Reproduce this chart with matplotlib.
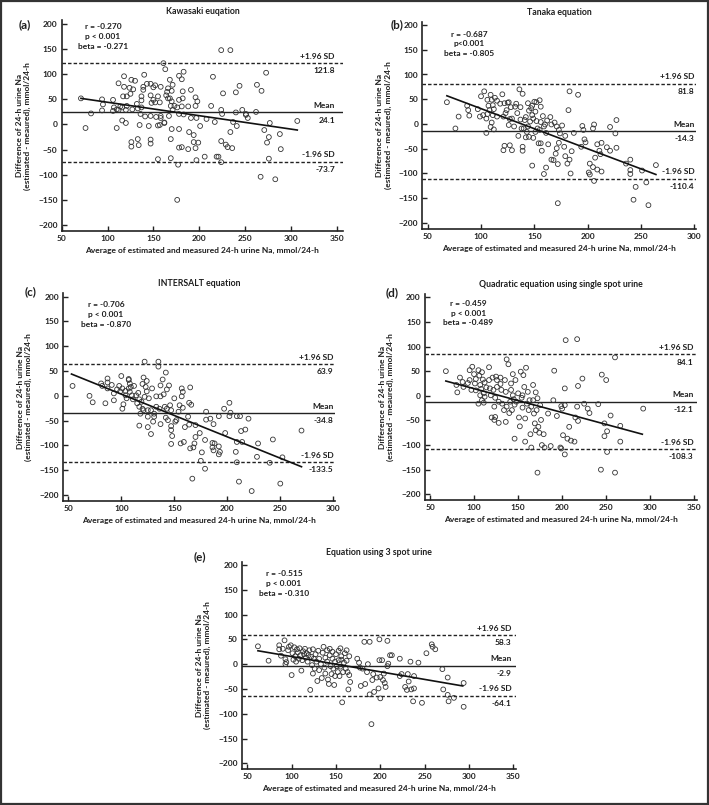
import numpy as np
import matplotlib
matplotlib.use("Agg")
import matplotlib.pyplot as plt
from matplotlib.patches import Rectangle

plt.rcParams['font.family'] = ['Lato', 'DejaVu Sans']

# ---- data (Bland-Altman plots), (average, difference) ----
a_pts = [(224, 148), (234, 148), (161, 122), (163, 110), (215, 95), (273, 103), (183, 105), (178, 97),
         (181, 90), (168, 89), (140, 99), (118, 96), (126, 89), (130, 87), (112, 82), (143, 81),
         (147, 81), (152, 78), (139, 75), (150, 74), (158, 75), (118, 75), (124, 73), (128, 70),
         (139, 69), (166, 72), (171, 79), (165, 65), (170, 67), (182, 66), (244, 77), (263, 79),
         (268, 67), (226, 62), (240, 64), (191, 69),
         (71, 52), (94, 50), (106, 49), (117, 56), (121, 56), (125, 61), (137, 56), (147, 58),
         (150, 49), (155, 56), (164, 58), (166, 52), (168, 52), (170, 46), (178, 49), (182, 52),
         (196, 54), (198, 46),
         (95, 40), (132, 41), (137, 48), (148, 43), (152, 44), (157, 44), (169, 37), (173, 37),
         (176, 34), (181, 36), (188, 36), (196, 37), (213, 37), (247, 29), (251, 19), (253, 13),
         (262, 25),
         (107, 34), (110, 30), (114, 36), (116, 34), (121, 37), (137, 34), (94, 28), (106, 27),
         (112, 29), (120, 29), (127, 30), (133, 32), (82, 22), (136, 21), (147, 17), (153, 15),
         (158, 13), (162, 4), (167, 17), (171, 29), (178, 21), (183, 20), (191, 13), (197, 13),
         (208, 11), (217, 5), (224, 29), (225, 21), (237, 5), (241, -3), (240, 24), (251, 21),
         (116, 8), (120, 3), (135, -1), (145, -3), (155, -2), (157, -1), (162, 3), (201, -3),
         (277, 3), (307, 7), (76, -7), (110, -7), (170, -9), (178, -9), (189, -15), (194, -21),
         (234, -15), (271, -11), (288, -19), (276, -25), (274, -36), (169, -29), (133, -29),
         (126, -35), (126, -44), (134, -41), (147, -30), (147, -38), (178, -46), (181, -45),
         (188, -49), (194, -35), (199, -36), (196, -47), (224, -33), (229, -40), (231, -45),
         (236, -47), (289, -49), (155, -69), (169, -67), (197, -71), (206, -64), (219, -64),
         (221, -64), (224, -75), (177, -80), (276, -68), (267, -104), (283, -109), (176, -150),
         (158, 17), (141, 16)]

b_pts = [(68, 44), (76, -9), (79, 15), (87, 37), (88, 28), (89, 17), (97, 30), (100, 56), (103, 66),
         (99, 15), (102, 18), (105, 11), (106, 49), (107, 37), (108, 28), (106, 20), (105, -18),
         (109, 59), (110, 49), (111, 38), (112, 30), (111, 18), (109, -6), (110, 3), (112, -11),
         (113, 53), (115, 47), (115, 15), (118, 41), (121, 15), (120, 60), (122, 42), (123, 22),
         (124, 28), (125, 43), (126, 44), (128, 34), (127, 10), (126, -2), (129, 11), (132, 35),
         (133, 41), (134, 22), (136, 70), (139, 61), (137, 34), (137, 9), (141, 8), (142, 14),
         (144, 42), (145, 27), (147, 32), (148, 37), (150, 45), (155, 48), (156, 35), (152, 44),
         (151, 25), (148, 18), (149, 11), (152, 6), (156, 4), (158, 16), (162, 7), (165, 14),
         (166, -1), (169, 3), (171, -5), (173, -12), (160, -1), (159, -5), (153, -9), (155, -12),
         (161, -18), (151, -16), (143, -16), (135, -24), (142, -27), (145, -26), (149, -28),
         (156, -39), (157, -54), (163, -41), (174, -19), (173, -38), (171, -49), (170, -60),
         (166, -72), (168, -73), (172, -81), (161, -88), (159, -101), (148, -84), (179, -24),
         (179, -65), (181, -80), (183, -72), (185, -55), (182, 28), (183, 66), (191, 59),
         (187, -18), (184, -100), (195, -4), (196, -12), (197, -31), (198, -37), (194, -46),
         (201, -98), (202, -102), (202, -80), (205, -87), (205, -9), (206, -1), (207, -68),
         (206, -115), (209, -41), (209, -92), (211, -54), (212, -61), (213, -38), (213, -96),
         (218, -47), (221, -54), (221, -6), (227, 8), (226, -19), (227, -48), (236, -80),
         (240, -72), (240, -93), (240, -101), (251, -94), (245, -127), (243, -153), (255, -118),
         (257, -164), (264, -83), (172, -160), (146, 5), (144, -5), (140, -9), (131, -5),
         (122, -44), (121, -53), (129, -53), (127, -43), (139, -46), (139, -54), (138, -9),
         (154, -39), (176, -3), (178, -46)]

c_pts = [(54, 20), (70, 0), (73, -13), (81, 25), (82, 20), (87, 27), (87, 35), (85, -15), (87, 15),
         (91, 22), (93, 5), (93, -9), (96, 13), (98, 20), (99, 9), (101, 15), (100, 40), (101, -26),
         (102, -17), (104, 1), (104, 10), (105, -5), (107, 34), (107, 32), (108, 25), (109, 18),
         (108, 8), (110, 1), (111, -7), (112, 20), (114, 1), (115, -15), (116, 6), (117, -7),
         (117, -22), (118, -36), (117, -60), (119, -12), (120, 24), (120, -26), (121, -29),
         (122, 69), (122, -2), (123, 18), (124, 30), (124, 9), (125, -42), (125, -63), (126, -5),
         (128, -29), (128, -77), (129, 15), (130, -52), (131, -42), (133, -22), (133, -1),
         (135, 69), (135, 59), (136, -26), (137, -57), (137, -1), (139, 33), (140, 3), (141, -22),
         (142, -44), (142, 47), (143, 13), (143, -26), (144, -49), (145, 21), (146, -19),
         (147, -29), (147, -61), (147, -69), (147, -97), (148, -81), (150, -5), (151, -52),
         (152, -49), (154, -32), (155, -19), (156, -96), (157, 15), (157, -1), (158, -24),
         (158, 8), (159, -93), (160, -63), (163, -42), (164, -58), (164, -14), (165, 17),
         (166, -18), (165, -106), (167, -167), (168, -104), (169, -96), (170, -83), (170, -59),
         (174, -75), (175, -131), (176, -114), (180, -48), (180, -32), (179, -89), (179, -147),
         (184, -46), (186, -95), (186, -104), (187, -110), (188, -96), (187, -57), (192, -41),
         (192, -102), (193, -113), (192, -118), (197, -26), (198, -75), (202, -14), (203, -34),
         (202, -41), (208, -113), (209, -93), (209, -41), (209, -134), (211, -173), (212, -41),
         (213, -71), (214, -93), (217, -68), (220, -46), (223, -192), (228, -123), (229, -96),
         (240, -135), (243, -88), (250, -177), (252, -124), (270, -70), (137, 21), (131, -36),
         (125, -29), (121, 37), (107, 15)]

d_pts = [(68, 50), (81, 7), (80, 22), (84, 37), (87, 28), (88, 18), (93, 26), (95, 32), (95, 52),
         (98, 59), (97, 12), (100, 44), (101, 25), (102, 34), (102, 11), (105, 52), (106, 41),
         (105, -16), (107, 22), (108, 14), (107, 1), (109, 48), (110, 33), (111, 5), (109, -9),
         (112, 27), (114, 17), (112, -2), (111, -14), (117, 58), (117, 32), (118, 15), (119, 1),
         (120, -44), (121, 37), (122, 12), (123, -22), (123, -49), (124, -4), (124, -43),
         (125, 39), (126, 18), (126, 32), (128, -12), (128, -55), (130, 24), (130, 37), (131, 12),
         (132, -16), (134, -29), (135, 32), (136, -53), (137, 74), (136, 8), (137, -22),
         (139, 64), (140, -35), (141, -12), (142, 25), (142, 12), (143, -29), (144, 44), (144, 1),
         (145, -7), (146, -18), (146, -87), (147, 32), (148, -12), (150, 5), (151, -44),
         (152, -62), (153, 49), (154, -4), (155, 1), (155, -24), (156, 42), (157, 18), (158, -93),
         (158, -46), (159, 57), (160, -16), (161, 8), (162, -29), (163, -9), (164, -78),
         (165, -22), (165, -105), (167, -9), (167, 22), (168, -36), (169, -56), (170, 7),
         (170, -70), (171, -29), (172, -5), (172, -156), (173, -63), (174, -75), (175, -19),
         (176, -49), (177, -100), (179, -78), (180, -105), (184, -36), (187, -102), (190, -9),
         (191, 51), (194, -41), (198, -105), (199, -21), (199, -107), (200, -26), (201, -80),
         (203, -19), (203, 15), (203, -119), (204, 113), (206, -87), (208, -63), (210, -91),
         (214, -93), (215, -44), (217, -22), (218, -51), (217, 115), (218, 20), (223, 35),
         (225, -16), (229, -26), (231, -35), (241, -17), (244, -150), (245, 43), (248, -56),
         (248, -82), (250, 32), (251, -72), (251, -114), (255, -40), (260, -156), (260, 78),
         (266, -61), (266, -93), (292, -26)]

e_pts = [(62, 36), (74, 7), (86, 38), (86, 30), (88, 17), (90, 31), (92, 48), (93, 10), (93, 0),
         (94, 4), (96, 28), (97, 35), (99, 38), (100, -22), (101, 22), (102, 9), (103, 34),
         (104, 16), (105, 5), (106, 30), (107, 24), (108, 11), (109, 32), (110, 18), (111, -13),
         (112, 8), (113, 26), (114, 20), (115, 31), (116, 13), (117, 22), (118, 5), (119, 18),
         (120, 28), (121, -52), (122, 15), (123, -2), (124, -19), (124, 30), (125, 11), (126, -9),
         (127, 20), (128, 5), (129, -34), (130, 27), (131, -12), (131, 11), (133, 0), (134, -28),
         (135, 23), (136, 35), (137, -7), (138, 13), (138, -19), (140, 28), (140, 5), (141, -31),
         (142, -40), (143, 18), (143, 31), (144, -4), (145, -20), (146, 11), (146, 25), (147, -9),
         (148, -42), (149, 5), (149, -24), (150, 20), (151, -4), (152, -16), (153, 8), (153, 27),
         (154, -24), (155, -5), (155, 32), (156, 16), (156, 9), (157, -77), (158, -16), (159, 3),
         (160, 22), (161, -9), (162, 28), (162, 7), (163, -16), (164, -51), (165, -22), (165, 16),
         (166, -36), (174, 11), (176, 3), (177, -7), (178, -44), (180, -9), (182, 45), (183, -40),
         (185, -16), (186, 0), (188, 45), (188, -61), (190, -121), (191, -32), (192, -20),
         (193, -56), (196, -27), (198, -49), (199, 50), (199, 8), (200, -26), (200, -69),
         (202, 8), (203, -32), (204, -19), (205, -38), (206, -46), (208, -4), (208, 47), (209, 1),
         (211, 18), (213, 18), (222, 11), (222, -24), (224, -20), (228, -46), (230, -52),
         (231, -20), (232, -35), (234, 5), (235, -51), (238, -49), (238, -24), (237, -75),
         (243, 3), (247, -78), (252, 22), (258, 40), (259, 35), (262, 30), (270, -10), (271, -51),
         (276, -27), (276, -62), (277, -75), (283, -68), (294, -38), (294, -86)]

titles = ["Kawasaki euqation", "Tanaka equation", "INTERSALT equation",
          "Quadratic equation using single spot urine", "Equation using 3 spot urine"]
letters = ["(a)", "(b)", "(c)", "(d)", "(e)"]
means = [24.1, -14.3, -34.8, -12.1, -2.9]
upper = [121.8, 81.8, 63.9, 84.1, 58.3]
lower = [-73.7, -110.4, -133.5, -108.3, -64.1]
r_vals = ["-0.270", "-0.687", "-0.706", "-0.459", "-0.515"]
p_txt = ["p < 0.001", "p<0.001", "p < 0.001", "p < 0.001", "p < 0.001"]
beta_vals = ["-0.271", "-0.805", "-0.870", "-0.489", "-0.310"]
# regression line ends
reg_x = [(71, 307), (68, 264), (53, 270), (68, 291), (62, 293)]
reg_y = [(52, -11), (57, -102), (44, -143), (30, -78), (27, -44)]
xmax_tick = [350, 300, 300, 350, 350]

panels = [a_pts, b_pts, c_pts, d_pts, e_pts]

# ---- layout (pixels in a 709x805 canvas) ----
W, H = 709, 805
# (x50 px, xmax px, xlim, y200 px, y-200 px)
geo = [
    (61.7, 336.7, (50, 357), 24.0, 225.0),
    (427.7, 694.3, (45, 302), 25.0, 223.0),
    (68.3, 333.3, (45, 302), 296.7, 495.0),
    (430.0, 694.3, (44, 353), 297.3, 494.3),
    (247.3, 513.3, (44, 353), 565.0, 763.3),
]
ylim = (-212, 207)
stat_pos = [(95, 175), (89, 162), (85.5, 164), (93.5, 168), (91.4, 163)]
letter_pos = [(25, 25), (397, 25), (31, 292), (392, 293), (200, 557)]
lab_x = [348, 300, 300, 349, 348]

fig = plt.figure(figsize=(W / 100, H / 100), dpi=100)
fig.patches.append(Rectangle((0.0015, 0.0015), 0.997, 0.997, transform=fig.transFigure,
                             fill=False, edgecolor='#333333', linewidth=1.6))

fs = 6.0
txtc = '#1e1e1e'
for i in range(5):
    x50, xm, xl, y2, ym2 = geo[i]
    xs_px = (xm - x50) / (xmax_tick[i] - 50)
    left = x50 + (xl[0] - 50) * xs_px
    right = x50 + (xl[1] - 50) * xs_px
    ys_px = (ym2 - y2) / 400
    top = y2 - (ylim[1] - 200) * ys_px
    bot = ym2 + (-200 - ylim[0]) * ys_px
    ax = fig.add_axes([left / W, 1 - bot / H, (right - left) / W, (bot - top) / H])

    px, py = zip(*panels[i])
    ax.scatter(px, py, s=12, facecolors='none', edgecolors='#333333', linewidths=0.6, zorder=3)
    ax.plot(reg_x[i], reg_y[i], color='#111111', lw=1.2, zorder=4)
    ax.axhline(means[i], color='#222222', lw=1.0)
    ax.axhline(upper[i], color='#222222', lw=1.0, ls=(0, (2.5, 1.5)))
    ax.axhline(lower[i], color='#222222', lw=1.0, ls=(0, (2.5, 1.5)))

    for val, name in [(upper[i], "+1.96 SD"), (means[i], "Mean"), (lower[i], "-1.96 SD")]:
        ax.annotate(name, (lab_x[i], val), xytext=(0, 2.5), textcoords='offset points',
                    ha='right', va='bottom', fontsize=fs, fontweight='bold', color=txtc)
        ax.annotate(f"{val:.1f}", (lab_x[i], val), xytext=(0, -3), textcoords='offset points',
                    ha='right', va='top', fontsize=fs, fontweight='bold', color=txtc)

    ax.text(stat_pos[i][0], stat_pos[i][1], f"r = {r_vals[i]}\n{p_txt[i]}\nbeta = {beta_vals[i]}",
            ha='center', va='center', multialignment='center', linespacing=1.45,
            fontsize=fs, fontweight='bold', color=txtc)

    ax.set_xlim(*xl)
    ax.set_ylim(*ylim)
    ax.set_xticks(np.arange(50, xmax_tick[i] + 1, 50))
    ax.set_yticks(np.arange(-200, 201, 50))
    ax.tick_params(direction='in', length=3.5, width=1.0, labelsize=fs, colors='#222222', pad=3)
    for lab in ax.get_xticklabels() + ax.get_yticklabels():
        lab.set_fontweight('bold')
    for s in ['top', 'right']:
        ax.spines[s].set_visible(False)
    for s in ['left', 'bottom']:
        ax.spines[s].set_linewidth(1.2)
        ax.spines[s].set_color('#222222')

    ax.set_title(titles[i], fontsize=6.3, fontweight='bold', color=txtc, pad=5)
    ax.set_xlabel("Average of estimated and measured 24-h urine Na, mmol/24-h",
                  fontsize=fs, fontweight='bold', color=txtc, labelpad=3.5)
    ax.set_ylabel("Difference of 24-h urine Na\n(estimated - meaured), mmol/24-h",
                  fontsize=fs, fontweight='bold', color=txtc, labelpad=5)
    fig.text(letter_pos[i][0] / W, 1 - letter_pos[i][1] / H, letters[i], ha='center', va='center',
             fontsize=8.5, fontweight='bold', color=txtc)

fig.savefig("out.png", dpi=100)
